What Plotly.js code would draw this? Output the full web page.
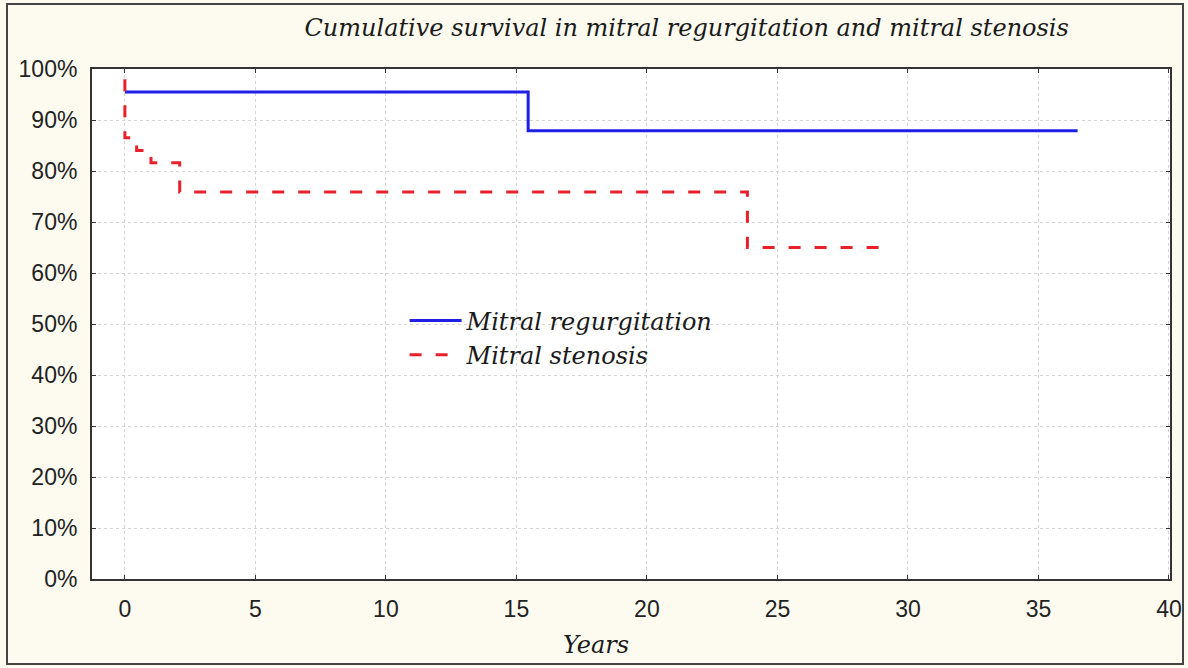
<!DOCTYPE html>
<html>
<head>
<meta charset="utf-8">
<script src="https://cdn.plot.ly/plotly-3.0.1.min.js"></script>
<style>
html,body{margin:0;padding:0;background:#fdfbf0;}
#wrap{position:relative;width:1188px;height:668px;}
#chart{width:1188px;height:668px;}
#frame{position:absolute;left:6px;top:3px;width:1178px;height:662px;border:2px solid #444;pointer-events:none;box-sizing:border-box;}
</style>
</head>
<body>
<div id="wrap"><div id="chart"></div><div id="frame"></div></div>
<script>
const titleText = "Cumulative survival in mitral regurgitation and mitral stenosis";
const xTitle = "Years";
const seriesNames = ["Mitral regurgitation", "Mitral stenosis"];
const mrYears = [0, 15.45, 36.5];
const mrSurvival = [0.955, 0.879, 0.879];
const msYears = [0, 0, 0.45, 1.0, 2.1, 23.85, 28.9];
const msSurvival = [0.98, 0.865, 0.84, 0.816, 0.759, 0.65, 0.65];
const xTicks = [0, 5, 10, 15, 20, 25, 30, 35, 40];
const yTicks = [0, 0.1, 0.2, 0.3, 0.4, 0.5, 0.6, 0.7, 0.8, 0.9, 1.0];

const serif = "DejaVu Serif, Liberation Serif, serif";
const sans = "Liberation Sans, Arial, sans-serif";

const traces = [
  {x: mrYears, y: mrSurvival, name: seriesNames[0], mode: "lines", line: {shape: "hv", color: "#1f1fe6", width: 3}},
  {x: msYears, y: msSurvival, name: seriesNames[1], mode: "lines", line: {shape: "hv", color: "#e8202a", width: 3, dash: "12px,14px"}}
];

const axisCommon = {
  showline: true, linecolor: "#333", linewidth: 2, mirror: "ticks",
  ticks: "inside", ticklen: 4, tickcolor: "#333", tickwidth: 1,
  showgrid: true, gridcolor: "#d4d4d4", gridwidth: 1, griddash: "dot",
  zeroline: false, tickfont: {family: sans, size: 23, color: "#222"}
};

const layout = {
  width: 1188, height: 668,
  paper_bgcolor: "#fdfbf0", plot_bgcolor: "#ffffff",
  margin: {l: 92, r: 18, t: 69, b: 89},
  title: {text: titleText, font: {family: serif, size: 24, color: "#1a1a1a", style: "italic"}, x: 0.578, xanchor: "center", y: 0.958, yanchor: "middle"},
  xaxis: Object.assign({}, axisCommon, {range: [-1.26, 40.04], tickvals: xTicks, ticklabelstandoff: 8}),
  yaxis: Object.assign({}, axisCommon, {range: [0, 1], tickvals: yTicks, tickformat: ".0%", ticklabelstandoff: 8}),
  annotations: [{text: xTitle, xref: "paper", yref: "paper", x: 0.4675, y: -0.13, xanchor: "center", yanchor: "middle", showarrow: false,
    font: {family: serif, size: 24, color: "#1a1a1a", style: "italic"}}],
  showlegend: true,
  legend: {x: 0.29, y: 0.55, xanchor: "left", yanchor: "top", bgcolor: "rgba(0,0,0,0)", itemwidth: 52,
    font: {family: serif, size: 24, color: "#1a1a1a", style: "italic"}, tracegroupgap: 0}
};

Plotly.newPlot("chart", traces, layout, {displayModeBar: false, staticPlot: true});
</script>
</body>
</html>
